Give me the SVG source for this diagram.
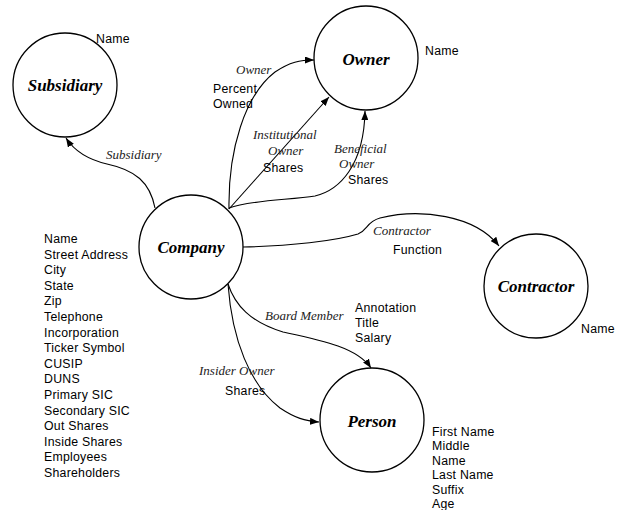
<svg xmlns="http://www.w3.org/2000/svg" width="618" height="510" viewBox="0 0 618 510">
<style>
.node{fill:#fff;stroke:#000;stroke-width:1.3}
.nl{font-family:"Liberation Serif","Times New Roman",serif;font-size:17px;font-weight:bold;font-style:italic;text-anchor:middle;fill:#000}
.el{font-family:"Liberation Serif","Times New Roman",serif;font-size:13px;font-style:italic;fill:#222}
.at{font-family:"Liberation Sans",Arial,sans-serif;font-size:12.3px;letter-spacing:0.25px;fill:#000}
.edge{fill:none;stroke:#000;stroke-width:1.1;marker-end:url(#arr)}
</style>
<defs>
<marker id="arr" viewBox="0 0 9 7" refX="9" refY="3.5" markerWidth="9" markerHeight="7" markerUnits="userSpaceOnUse" orient="auto">
<path d="M0,0 L9,3.5 L0,7 z" fill="#000"/>
</marker>
</defs>
<rect width="618" height="510" fill="#fff"/>
<g id="connectors">
<path class="edge" d="M155,208 C150,182 135,170 107,164 C90,160 75,152 66,138"/>
<path class="edge" d="M229,209 C228,150 245,95 275,72 C290,62 300,60 314,60"/>
<path class="edge" d="M229,209 L329,97"/>
<path class="edge" d="M229,208 C250,200 290,200 315,196 C340,190 364,165 365,111"/>
<path class="edge" d="M243,247 C290,246 335,241 358,234 C368,230 366,222 380,218 C420,208 475,215 499,246"/>
<path class="edge" d="M228,284 C235,305 250,322 283,332 C320,340 357,347 371,368"/>
<path class="edge" d="M228,284 C232,340 250,385 280,408 C295,418 305,421 319,422"/>
<text class="el" x="106" y="159">Subsidiary</text>
<text class="el" x="236" y="74">Owner</text>
<text class="at" x="213" y="93">Percent</text>
<text class="at" x="213" y="108">Owned</text>
<text class="el" x="253" y="139">Institutional</text>
<text class="el" x="268" y="155">Owner</text>
<text class="at" x="263" y="172">Shares</text>
<text class="el" x="334" y="153">Beneficial</text>
<text class="el" x="339" y="168">Owner</text>
<text class="at" x="348" y="184">Shares</text>
<text class="el" x="373" y="235">Contractor</text>
<text class="at" x="393" y="254">Function</text>
<text class="el" x="265" y="320">Board Member</text>
<text class="at" x="355" y="312">Annotation</text>
<text class="at" x="355" y="327">Title</text>
<text class="at" x="355" y="342">Salary</text>
<text class="el" x="199" y="375">Insider Owner</text>
<text class="at" x="225" y="395">Shares</text>
</g>
<g id="subsidiary">
<circle class="node" cx="65" cy="85" r="52"/>
<text class="nl" x="65" y="91">Subsidiary</text>
<text class="at" x="96" y="43">Name</text>
</g>
<g id="owner">
<circle class="node" cx="366" cy="58" r="52"/>
<text class="nl" x="366" y="65">Owner</text>
<text class="at" x="425" y="55">Name</text>
</g>
<g id="company">
<circle class="node" cx="191" cy="247" r="52"/>
<text class="nl" x="191" y="253">Company</text>
<text class="at" x="44" y="243">Name</text>
<text class="at" x="44" y="258.6">Street Address</text>
<text class="at" x="44" y="274.2">City</text>
<text class="at" x="44" y="289.8">State</text>
<text class="at" x="44" y="305.4">Zip</text>
<text class="at" x="44" y="321">Telephone</text>
<text class="at" x="44" y="336.6">Incorporation</text>
<text class="at" x="44" y="352.2">Ticker Symbol</text>
<text class="at" x="44" y="367.8">CUSIP</text>
<text class="at" x="44" y="383.4">DUNS</text>
<text class="at" x="44" y="399">Primary SIC</text>
<text class="at" x="44" y="414.6">Secondary SIC</text>
<text class="at" x="44" y="430.2">Out Shares</text>
<text class="at" x="44" y="445.8">Inside Shares</text>
<text class="at" x="44" y="461.4">Employees</text>
<text class="at" x="44" y="477">Shareholders</text>
</g>
<g id="contractor">
<circle class="node" cx="536" cy="286" r="52"/>
<text class="nl" x="536" y="292">Contractor</text>
<text class="at" x="581" y="333">Name</text>
</g>
<g id="person">
<circle class="node" cx="372" cy="420" r="52"/>
<text class="nl" x="372" y="427">Person</text>
<text class="at" x="432" y="436">First Name</text>
<text class="at" x="432" y="450.4">Middle</text>
<text class="at" x="432" y="464.8">Name</text>
<text class="at" x="432" y="479.2">Last Name</text>
<text class="at" x="432" y="493.6">Suffix</text>
<text class="at" x="432" y="508">Age</text>
</g>
</svg>
